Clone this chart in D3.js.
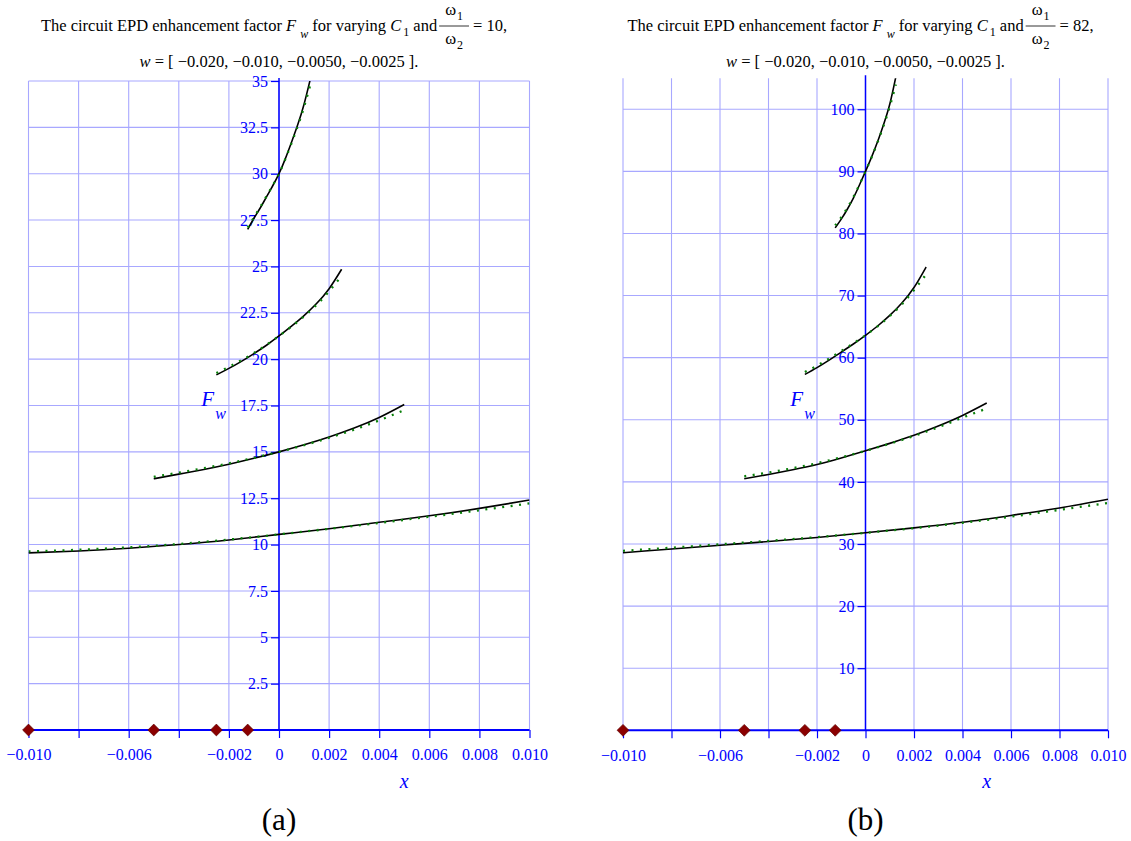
<!DOCTYPE html>
<html><head><meta charset="utf-8">
<script src="https://cdn.jsdelivr.net/npm/d3@7"></script>
</head>
<body style="margin:0;background:#fff">
<svg id="c" width="1131" height="841" style="display:block;font-family:'Liberation Serif'"></svg>
<script>
// ---------------- data ----------------
const wValues = [-0.020, -0.010, -0.0050, -0.0025];
const ratioValues = [10, 82];
const panelLabels = ["(a)", "(b)"];
const markerX = [-0.010, -0.005, -0.0025, -0.00125];

const xTicks = [-0.010, -0.008, -0.006, -0.004, -0.002, 0, 0.002, 0.004, 0.006, 0.008, 0.010];
const xTickLabels = ["\u22120.010", "", "\u22120.006", "", "\u22120.002", "0", "0.002", "0.004", "0.006", "0.008", "0.010"];

const yTicksA = [2.5, 5, 7.5, 10, 12.5, 15, 17.5, 20, 22.5, 25, 27.5, 30, 32.5, 35];
const yTickLabelsA = ["2.5", "5", "7.5", "10", "12.5", "15", "17.5", "20", "22.5", "25", "27.5", "30", "32.5", "35"];
const yTicksB = [10, 20, 30, 40, 50, 60, 70, 80, 90, 100];
const yTickLabelsB = ["10", "20", "30", "40", "50", "60", "70", "80", "90", "100"];

// x samples for each curve (w = -0.020, -0.010, -0.005, -0.0025)
const x1 = [-0.010, -0.008, -0.006, -0.004, -0.002, 0, 0.002, 0.004, 0.006, 0.008, 0.010];
const x2 = [-0.005, -0.004, -0.003, -0.002, -0.001, 0, 0.001, 0.002, 0.003, 0.004, 0.005];
const x3 = [-0.0025, -0.002, -0.0015, -0.001, -0.0005, 0, 0.0005, 0.001, 0.0015, 0.002, 0.0025];
const x4 = [-0.00125, -0.001, -0.00075, -0.0005, -0.00025, 0, 0.00025, 0.0005, 0.00075, 0.001, 0.00125];

// panel (a): ratio 10
const a1Solid  = [9.55, 9.65, 9.8, 10.0, 10.25, 10.55, 10.85, 11.2, 11.55, 11.95, 12.4];
const a1Dotted = [9.63, 9.72, 9.85, 10.03, 10.27, 10.55, 10.85, 11.17, 11.5, 11.85, 12.22];
const a2Solid  = [13.55, 13.8, 14.05, 14.33, 14.65, 15.0, 15.38, 15.8, 16.28, 16.85, 17.55];
const a2Dotted = [13.65, 13.88, 14.12, 14.38, 14.68, 15.0, 15.36, 15.76, 16.2, 16.7, 17.25];
const a3Solid  = [19.15, 19.5, 19.88, 20.3, 20.75, 21.25, 21.78, 22.35, 23.0, 23.8, 24.85];
const a3Dotted = [19.25, 19.58, 19.94, 20.33, 20.77, 21.25, 21.76, 22.31, 22.93, 23.66, 24.5];
const a4Solid  = [27.0, 27.6, 28.15, 28.75, 29.35, 30.0, 30.8, 31.7, 32.65, 33.75, 35.1];
const a4Dotted = [27.1, 27.65, 28.2, 28.78, 29.37, 30.0, 30.78, 31.65, 32.57, 33.6, 34.8];

// panel (b): ratio 82
const b1Solid  = [28.6, 29.2, 29.8, 30.4, 31.05, 31.8, 32.6, 33.5, 34.6, 35.8, 37.2];
const b1Dotted = [28.9, 29.4, 29.95, 30.5, 31.1, 31.8, 32.55, 33.4, 34.4, 35.5, 36.6];
const b2Solid  = [40.5, 41.2, 41.95, 42.8, 43.85, 45.0, 46.2, 47.5, 49.0, 50.7, 52.7];
const b2Dotted = [40.9, 41.5, 42.2, 43.0, 43.95, 45.0, 46.15, 47.4, 48.8, 50.35, 51.8];
const b3Solid  = [57.3, 58.4, 59.6, 60.9, 62.2, 63.6, 65.1, 66.8, 68.8, 71.3, 74.6];
const b3Dotted = [57.7, 58.7, 59.85, 61.05, 62.3, 63.6, 65.05, 66.7, 68.6, 70.9, 73.4];
const b4Solid  = [80.9, 82.3, 83.9, 85.7, 87.8, 90.0, 92.3, 94.8, 97.6, 100.8, 105.2];
const b4Dotted = [81.3, 82.6, 84.1, 85.85, 87.85, 90.0, 92.25, 94.7, 97.4, 100.4, 104.0];

// ---------------- drawing ----------------
const BLUE = "#0000ff";
const GRID = "#a8a8ff";
const FONT = '"Liberation Serif"';
const svg = d3.select("#c");

const panels = [
  { id: "A", xr: [28.5, 529.5], yr: [730, 81], ymax: 35, yTicks: yTicksA, yLabels: yTickLabelsA,
    xs: [x1, x2, x3, x4], solid: [a1Solid, a2Solid, a3Solid, a4Solid], dotted: [a1Dotted, a2Dotted, a3Dotted, a4Dotted],
    ratio: ratioValues[0], label: panelLabels[0] },
  { id: "B", xr: [623, 1108], yr: [730.3, 78.2], ymax: 105, yTicks: yTicksB, yLabels: yTickLabelsB,
    xs: [x1, x2, x3, x4], solid: [b1Solid, b2Solid, b3Solid, b4Solid], dotted: [b1Dotted, b2Dotted, b3Dotted, b4Dotted],
    ratio: ratioValues[1], label: panelLabels[1] }
];

function fmtW(v) {
  const s = Math.abs(v).toFixed(v === -0.020 || v === -0.010 ? 3 : 4);
  return (v < 0 ? "\u2212" : "") + s;
}

function txt(sel) { return sel.style("font-family", FONT); }

function drawTitle(cx, ratio) {
  const g = svg.append("g");
  const fs = 16.5;
  const yb = 31;
  const t1 = txt(g.append("text")).attr("x", 0).attr("y", yb).attr("font-size", fs).attr("fill", "#000");
  t1.append("tspan").text("The circuit EPD enhancement factor ");
  t1.append("tspan").attr("font-style", "italic").text("F");
  t1.append("tspan").attr("font-style", "italic").attr("font-size", 12).attr("dx", 4).attr("dy", 7).text("w");
  t1.append("tspan").attr("dy", -7).text(" for varying ");
  t1.append("tspan").attr("font-style", "italic").text("C");
  t1.append("tspan").attr("font-size", 12).attr("dx", 2).attr("dy", 5).text("1");
  t1.append("tspan").attr("dy", -5).text(" and");
  let xp = t1.node().getComputedTextLength() + 8;
  const num = txt(g.append("text")).attr("y", yb - 16).attr("font-size", fs).attr("fill", "#000");
  num.append("tspan").text("\u03c9");
  num.append("tspan").attr("font-size", 12).attr("dx", 1).attr("dy", 5).text("1");
  const den = txt(g.append("text")).attr("y", yb + 13).attr("font-size", fs).attr("fill", "#000");
  den.append("tspan").text("\u03c9");
  den.append("tspan").attr("font-size", 12).attr("dx", 1).attr("dy", 5).text("2");
  const nw = num.node().getComputedTextLength() + 1, dw = den.node().getComputedTextLength() + 1;
  const fw = Math.max(nw, dw) + 12;
  num.attr("x", xp + (fw - nw) / 2);
  den.attr("x", xp + (fw - dw) / 2);
  g.append("line").attr("x1", xp).attr("x2", xp + fw).attr("y1", yb - 5).attr("y2", yb - 5)
    .attr("stroke", "#000").attr("stroke-width", 0.8);
  xp += fw + 4;
  const t2 = txt(g.append("text")).attr("x", xp).attr("y", yb).attr("font-size", fs).attr("fill", "#000")
    .text("= " + ratio + ",");
  xp += t2.node().getComputedTextLength();
  g.attr("transform", `translate(${cx - 5 - xp / 2},0)`);

  const g2 = svg.append("g");
  const t3 = txt(g2.append("text")).attr("y", 67).attr("font-size", fs).attr("fill", "#000");
  t3.append("tspan").attr("font-style", "italic").text("w");
  t3.append("tspan").text(" = [ " + wValues.map(fmtW).join(",  ") + " ].");
  const w3 = t3.node().getComputedTextLength();
  t3.attr("x", cx - w3 / 2);
}

function draw() {
  svg.selectAll("*").remove();
  panels.forEach(p => {
    const x = d3.scaleLinear().domain([-0.010, 0.010]).range(p.xr);
    const y = d3.scaleLinear().domain([0, p.ymax]).range(p.yr);
    const g = svg.append("g");
    const top = p.yr[1];

    g.append("g").selectAll("line").data(xTicks).join("line")
      .attr("x1", d => x(d)).attr("x2", d => x(d)).attr("y1", y(0)).attr("y2", top)
      .attr("stroke", GRID).attr("stroke-width", 1.1);
    g.append("g").selectAll("line").data(p.yTicks).join("line")
      .attr("x1", x(-0.010)).attr("x2", x(0.010)).attr("y1", d => y(d)).attr("y2", d => y(d))
      .attr("stroke", GRID).attr("stroke-width", 1.1);

    const clipId = "clip" + p.id;
    svg.append("clipPath").attr("id", clipId).append("rect")
      .attr("x", x(-0.010)).attr("y", top).attr("width", x(0.010) - x(-0.010)).attr("height", y(0) - top);

    const xAxis = d3.axisBottom(x).tickValues(xTicks).tickSize(8).tickPadding(11)
      .tickFormat((d, i) => xTickLabels[i]);
    const gx = g.append("g").attr("transform", `translate(0,${y(0)})`).call(xAxis);
    gx.attr("font-size", 16).attr("font-family", null);
    gx.select(".domain").remove();
    gx.selectAll(".tick line").attr("stroke", BLUE).attr("stroke-width", 1.2);
    txt(gx.selectAll(".tick text")).attr("fill", BLUE);

    const yAxis = d3.axisLeft(y).tickValues(p.yTicks).tickSize(8).tickPadding(3)
      .tickFormat((d, i) => p.yLabels[i]);
    const gy = g.append("g").attr("transform", `translate(${x(0)},0)`).call(yAxis);
    gy.attr("font-size", 16).attr("font-family", null);
    gy.select(".domain").remove();
    gy.selectAll(".tick line").attr("stroke", BLUE).attr("stroke-width", 1.2);
    txt(gy.selectAll(".tick text")).attr("fill", BLUE);

    g.append("line").attr("x1", x(0)).attr("x2", x(0)).attr("y1", y(0)).attr("y2", top - 3)
      .attr("stroke", BLUE).attr("stroke-width", 1.5);
    g.append("line").attr("x1", x(-0.010)).attr("x2", x(0.010)).attr("y1", y(0)).attr("y2", y(0))
      .attr("stroke", BLUE).attr("stroke-width", 2);

    const cg = g.append("g").attr("clip-path", `url(#${clipId})`);
    const line = d3.line().x(d => x(d[0])).y(d => y(d[1])).curve(d3.curveNatural);
    p.xs.forEach((xs, k) => {
      cg.append("path").datum(xs.map((v, i) => [v, p.solid[k][i]])).attr("d", line)
        .attr("fill", "none").attr("stroke", "#000").attr("stroke-width", 1.6);
    });
    p.xs.forEach((xs, k) => {
      cg.append("path").datum(xs.map((v, i) => [v, p.dotted[k][i]])).attr("d", line)
        .attr("fill", "none").attr("stroke", "#0a800a").attr("stroke-width", 2.3)
        .attr("stroke-dasharray", "2,6.5");
    });

    g.append("g").selectAll("path").data(markerX).join("path")
      .attr("d", d3.symbol().type(d3.symbolSquare).size(70))
      .attr("transform", d => `translate(${x(d)},${y(0)}) rotate(45)`)
      .attr("fill", "#8b0000").attr("stroke", "#5a0000").attr("stroke-width", 0.6);

    txt(g.append("text")).attr("x", x(0.005)).attr("y", 788).attr("text-anchor", "middle")
      .attr("font-style", "italic").attr("font-size", 20).attr("fill", BLUE).text("x");
    const fl = txt(g.append("text")).attr("x", x(-0.0031)).attr("y", 406)
      .attr("font-size", 21).attr("fill", BLUE).attr("font-style", "italic");
    fl.append("tspan").text("F");
    fl.append("tspan").attr("font-size", 16).attr("dx", 1).attr("dy", 13).text("w");

    txt(g.append("text")).attr("x", x(0)).attr("y", 830).attr("text-anchor", "middle")
      .attr("font-size", 31).attr("fill", "#000").text(p.label);

    drawTitle(x(0), p.ratio);
  });
}
draw();
if (document.fonts && document.fonts.ready) document.fonts.ready.then(draw);
</script>
</body></html>
